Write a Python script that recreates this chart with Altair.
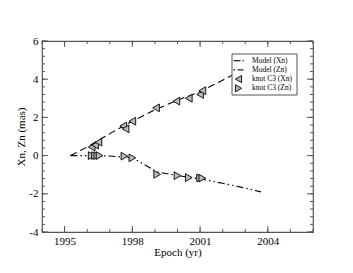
import altair as alt
import pandas as pd

# ---- data ----
model_years_xn = [1995.26, 1996.0, 1997.0, 1998.0, 1999.0, 2000.0, 2001.0, 2002.0, 2003.0, 2003.7]
model_vals_xn = [0.0, 0.45, 1.15, 1.8, 2.4, 2.9, 3.35, 3.95, 4.55, 4.95]

model_years_zn = [1995.26, 1996.0, 1997.0, 1998.0, 1998.5, 1999.1, 2000.0, 2001.0, 2002.0, 2003.0, 2003.7]
model_vals_zn = [0.0, 0.0, -0.02, -0.12, -0.45, -0.85, -1.05, -1.22, -1.45, -1.7, -1.9]

knot_years_xn = [1996.2, 1996.35, 1996.5, 1997.6, 1997.7, 1998.0, 1999.05, 1999.95, 2000.5, 2001.0, 2001.1]
knot_vals_xn = [0.45, 0.55, 0.7, 1.55, 1.4, 1.8, 2.5, 2.85, 3.0, 3.2, 3.4]

knot_years_zn = [1996.2, 1996.35, 1996.45, 1996.55, 1997.65, 1998.0, 1999.1, 2000.0, 2000.5, 2001.0, 2001.1]
knot_vals_zn = [0.0, 0.0, 0.0, 0.0, -0.03, -0.12, -0.98, -1.05, -1.15, -1.17, -1.18]

series_names = ["Model (Xn)", "Model (Zn)", "knot C3 (Xn)", "knot C3 (Zn)"]

x_major = [1995, 1998, 2001, 2004]
x_minor = list(range(1994, 2007))
y_major = [-4, -2, 0, 2, 4, 6]
y_minor = [round(-4 + 0.4 * i, 1) for i in range(26)]

W, H = 271, 191
FONT = "Liberation Serif"
TRI_FILL = "#bbbbbb"

df_mx = pd.DataFrame({"year": model_years_xn, "val": model_vals_xn})
df_mz = pd.DataFrame({"year": model_years_zn, "val": model_vals_zn})
df_kx = pd.DataFrame({"year": knot_years_xn, "val": knot_vals_xn})
df_kz = pd.DataFrame({"year": knot_years_zn, "val": knot_vals_zn})

xs = alt.Scale(domain=[1994, 2006], nice=False, zero=False)
ys = alt.Scale(domain=[-4, 6], nice=False, zero=False)

x_axis = alt.Axis(values=x_major, title="Epoch (yr)", ticks=False, domain=False, grid=False,
                  labelPadding=3, titlePadding=0, format="d", labelOverlap=False,
                  titleFontWeight="normal")
y_axis = alt.Axis(values=y_major, title="Xn, Zn (mas)", ticks=False, domain=False, grid=False,
                  labelPadding=4, titlePadding=2, labelExpr="'' + datum.value",
                  labelOverlap=False, titleFontWeight="normal")

X = alt.X("year:Q", scale=xs, axis=x_axis)
Y = alt.Y("val:Q", scale=ys, axis=y_axis)

DASH_X = [7, 4]
DASH_Z = [7, 3, 1.5, 3, 1.5, 3]

line_x = alt.Chart(df_mx).mark_line(color="black", strokeWidth=1.1, strokeDash=DASH_X).encode(x=X, y=Y)
line_z = alt.Chart(df_mz).mark_line(color="black", strokeWidth=1.1, strokeDash=DASH_Z).encode(x=X, y=Y)

pts_x = alt.Chart(df_kx).mark_point(shape="triangle-left", filled=True, fill=TRI_FILL, stroke="black",
                                     strokeWidth=0.9, size=60, opacity=1).encode(x=X, y=Y)
pts_z = alt.Chart(df_kz).mark_point(shape="triangle-right", filled=True, fill=TRI_FILL, stroke="black",
                                     strokeWidth=0.9, size=60, opacity=1).encode(x=X, y=Y)

# inward ticks on all four sides
tick_color = "#555"
xmaj = pd.DataFrame({"year": x_major})
xmin = pd.DataFrame({"year": x_minor})
ymaj = pd.DataFrame({"val": y_major})
ymin = pd.DataFrame({"val": y_minor})

def xticks(df, length):
    b = alt.Chart(df).mark_rule(color=tick_color, strokeWidth=1).encode(
        x=X, y=alt.value(H), y2=alt.value(H - length))
    t = alt.Chart(df).mark_rule(color=tick_color, strokeWidth=1).encode(
        x=X, y=alt.value(0), y2=alt.value(length))
    return b + t

def yticks(df, length):
    l = alt.Chart(df).mark_rule(color=tick_color, strokeWidth=1).encode(
        y=Y, x=alt.value(0), x2=alt.value(length))
    r = alt.Chart(df).mark_rule(color=tick_color, strokeWidth=1).encode(
        y=Y, x=alt.value(W), x2=alt.value(W - length))
    return l + r

# ---- legend box (drawn as guide decoration) ----
LX0, LX1, LY0, LY1 = 190, 255, 13, 54
row_y = [19.7, 28.9, 38.1, 47.3]
sym_x = 196.5
lab_x = 210

def one(label):
    return pd.DataFrame({"label": [label]})

leg_box = alt.Chart(one("box")).mark_rect(fill="white", stroke="#555", strokeWidth=1).encode(
    x=alt.value(LX0), x2=alt.value(LX1), y=alt.value(LY0), y2=alt.value(LY1))

leg_texts = [
    alt.Chart(one(name)).mark_text(align="left", baseline="middle", font=FONT, fontSize=7.5,
                                   color="black").encode(
        text="label:N", x=alt.value(lab_x), y=alt.value(ry))
    for name, ry in zip(series_names, row_y)
]

leg_lx = (
    alt.Chart(one("a")).mark_rule(color="black", strokeWidth=1.1).encode(
        x=alt.value(sym_x - 5), x2=alt.value(sym_x + 2), y=alt.value(row_y[0]))
    + alt.Chart(one("b")).mark_rule(color="black", strokeWidth=1.1).encode(
        x=alt.value(sym_x + 4), x2=alt.value(sym_x + 5.5), y=alt.value(row_y[0]))
)
leg_lz = (
    alt.Chart(one("a")).mark_rule(color="black", strokeWidth=1.1).encode(
        x=alt.value(sym_x - 5), x2=alt.value(sym_x - 3.5), y=alt.value(row_y[1]))
    + alt.Chart(one("b")).mark_rule(color="black", strokeWidth=1.1).encode(
        x=alt.value(sym_x - 1), x2=alt.value(sym_x + 5), y=alt.value(row_y[1]))
)
leg_px = alt.Chart(one("c")).mark_point(shape="triangle-left", filled=True, fill=TRI_FILL, stroke="black",
                                         strokeWidth=0.9, size=50, opacity=1).encode(
    x=alt.value(sym_x), y=alt.value(row_y[2]))
leg_pz = alt.Chart(one("d")).mark_point(shape="triangle-right", filled=True, fill=TRI_FILL, stroke="black",
                                         strokeWidth=0.9, size=50, opacity=1).encode(
    x=alt.value(sym_x), y=alt.value(row_y[3]))

chart = alt.layer(
    line_x, line_z, pts_x, pts_z,
    xticks(xmin, 3), xticks(xmaj, 6), yticks(ymin, 3), yticks(ymaj, 6),
    leg_box, *leg_texts, leg_lx, leg_lz, leg_px, leg_pz,
).properties(
    width=W, height=H,
    autosize=alt.AutoSizeParams(type="none"),
    padding={"left": 34, "top": 33, "right": 32, "bottom": 34},
).configure_view(
    stroke="#555", strokeWidth=1.2
).configure_axis(
    labelFont=FONT, titleFont=FONT, labelFontSize=11, titleFontSize=11,
    labelColor="black", titleColor="black", titleFontWeight="normal",
)

chart.save("out.html", embed_options={"renderer": "svg", "actions": False})
